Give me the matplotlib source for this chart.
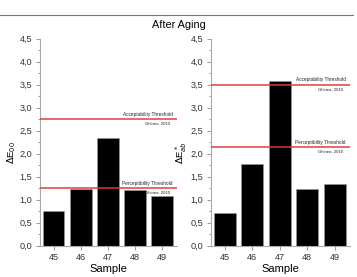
import matplotlib
matplotlib.use("Agg")
import matplotlib.pyplot as plt
from matplotlib.ticker import MultipleLocator, FuncFormatter
from matplotlib.lines import Line2D

plt.rcParams['font.family'] = ['Liberation Sans', 'DejaVu Sans']

samples = [45, 46, 47, 48, 49]
de00 = [0.75, 1.23, 2.33, 1.21, 1.07]
deab = [0.70, 1.78, 3.58, 1.24, 1.33]
thr00 = {"Acceptability Threshold": 2.75, "Perceptibility Threshold": 1.25}
thrab = {"Acceptability Threshold": 3.50, "Perceptibility Threshold": 2.15}
citation = "Ghinea, 2010"

fig = plt.figure(figsize=(3.57, 2.77), dpi=100)
fig.patch.set_facecolor('white')

ax1 = fig.add_axes([0.112, 0.113, 0.384, 0.748])
ax2 = fig.add_axes([0.591, 0.113, 0.389, 0.748])

comma = FuncFormatter(lambda v, p: f"{v:.1f}".replace('.', ','))

def style(ax, vals, thr, ylabel):
    ax.bar(samples, vals, width=0.8, color='black', edgecolor='#999999', linewidth=0.4, zorder=2)
    ax.set_xlim(44.5, 49.55)
    ax.set_ylim(0, 4.5)
    ax.set_xticks(samples)
    ax.yaxis.set_major_locator(MultipleLocator(0.5))
    ax.yaxis.set_minor_locator(MultipleLocator(0.25))
    ax.yaxis.set_major_formatter(comma)
    for s in ['top', 'right']:
        ax.spines[s].set_visible(False)
    for s in ['left', 'bottom']:
        ax.spines[s].set_color('#aaaaaa')
        ax.spines[s].set_linewidth(0.8)
    ax.tick_params(axis='both', which='both', direction='out', color='#888888',
                   labelsize=6.6, labelcolor='#333333', width=0.6)
    ax.tick_params(axis='both', which='major', length=3, pad=2.5)
    ax.tick_params(axis='y', which='minor', length=1.8)
    ax.set_xlabel("Sample", fontsize=8, labelpad=1.5)
    ax.set_ylabel(ylabel, fontsize=6.8, labelpad=2)
    ax.yaxis.set_label_coords(-0.16, 0.45)
    for name, v in thr.items():
        ax.axhline(v, color='#e03a3a', linewidth=1.2, alpha=0.9, zorder=3)
        ax.annotate(name, xy=(0.97, v), xycoords=('axes fraction', 'data'),
                    xytext=(0, 1.5), textcoords='offset points',
                    ha='right', va='bottom', fontsize=3.4, color='#222222')
        ax.annotate(citation, xy=(0.95, v), xycoords=('axes fraction', 'data'),
                    xytext=(0, -2), textcoords='offset points',
                    ha='right', va='top', fontsize=3.1, color='#222222')

style(ax1, de00, thr00, r"$\Delta$E$_{00}$")
style(ax2, deab, thrab, r"$\Delta$E$^*_{ab}$")

fig.text(0.5, 0.91, "After Aging", ha='center', va='center', fontsize=7.8)
fig.add_artist(Line2D([0.0, 0.99], [0.946, 0.946], transform=fig.transFigure,
                      color='#777777', linewidth=0.8))

fig.savefig("out.png", dpi=100)
